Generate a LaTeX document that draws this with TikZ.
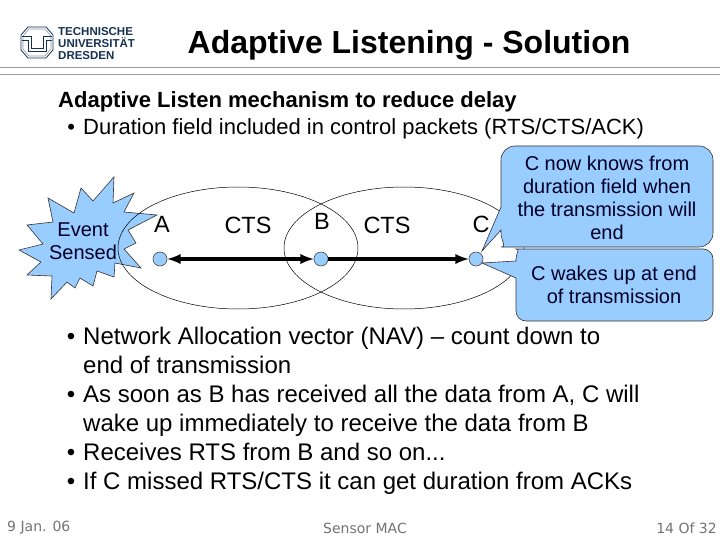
\documentclass[tikz,border=0pt]{standalone}
\usepackage{fontspec}
\setmainfont{Liberation Sans}
\newfontfamily\footfont{DejaVu Sans}
\usetikzlibrary{positioning,arrows,shapes.geometric}
\definecolor{bubblefill}{RGB}{153,204,255}
\definecolor{tunavy}{RGB}{22,50,82}
\newcommand{\bul}{\llap{\textbullet\hspace{8pt}}}
\begin{document}
\begin{tikzpicture}[
          x=1pt,y=-1pt,
          rule/.style={draw=black!40,line width=1pt},
          cover/.style={draw,ellipse,line width=.5pt,minimum width=240pt,minimum height=122pt,inner sep=0pt},
          station/.style={draw=black!70,circle,fill=bubblefill,minimum size=14pt,inner sep=0pt,line width=.6pt},
          bubble/.style={draw=black!80,fill=bubblefill,line width=.6pt},
          bubbletext/.style={font=\fontsize{20}{23}\selectfont,align=center,inner sep=0pt,text=black!85!blue},
          lbl/.style={font=\fontsize{23.5}{26}\selectfont,inner sep=0pt},
          body/.style={font=\fontsize{24}{29}\selectfont,align=left,anchor=north west,inner sep=0pt},
          foot/.style={font=\fontsize{14}{16}\footfont,text=black!55,inner sep=0pt},
          logotext/.style={font=\fontsize{11.5}{12}\selectfont\bfseries,text=tunavy,align=left,inner sep=0pt},
          radio/.style={line width=3.5pt}
            ]
            \useasboundingbox (0,0) rectangle (720,540);
            \fill[white] (0,0) rectangle (720,540);
            \draw[tunavy,line width=.8pt] (28,27) -- (46,27) -- (53,35) -- (53,50) -- (46,58) -- (28,58) -- (21,50) -- (21,35) -- cycle;
            \draw[tunavy!50,line width=.6pt] (29,29) -- (45,29) -- (51,36) -- (51,49) -- (45,56) -- (29,56) -- (23,49) -- (23,36) -- cycle;
            \draw[tunavy,line width=1pt] (22,37) -- (31,37) -- (31,49) -- (43,49) -- (43,37) -- (52,37);
            \draw[tunavy,line width=1pt] (22,41) -- (28,41) -- (28,52) -- (46,52) -- (46,41) -- (52,41);
            \node[logotext,anchor=north west] (logo) at (58,27) {TECHNISCHE\\UNIVERSITÄT\\DRESDEN};
            \node[inner sep=0pt,font=\fontsize{32}{36}\selectfont\bfseries] (title) at (409,45) {Adaptive Listening - Solution};
            \coordinate (rl1) at (0,67.5);
            \coordinate (rr1) at (720,67.5);
            \coordinate (rl2) at (0,75);
            \coordinate (rr2) at (720,75);
            \path (rl1) edge[rule] (rr1)
            (rl2) edge[rule] (rr2);
            \node[body,font=\fontsize{22}{27}\selectfont] (head) at (58,91) {\textbf{Adaptive Listen mechanism to reduce delay}\\\hspace{25pt}\bul Duration field included in control packets (RTS/CTS/ACK)};
            \draw[bubble,line join=miter] (114,177) -- (113,203) -- (134,193) -- (124,212) -- (157,215) -- (128,230) -- (136,243) -- (124,249) -- (141,268) -- (115,263) -- (114,277) -- (97,271) -- (93,286) -- (80,278) -- (75,288) -- (67,282) -- (51,299) -- (52,276) -- (27,275) -- (41,262) -- (19,250) -- (43,244) -- (27,225) -- (53,222) -- (48,198) -- (74,213) -- (81,188) -- (93,201) -- cycle;
            \node[bubbletext] (event) at (83,241) {Event\\Sensed};
            \node[cover] (ra) at (238,248) {};
            \node[cover] (rb) at (404,248) {};
            \node[station] (a) at (160,259) {};
            \node[station] (b) at (321,259) {};
            \node[station] (c) at (476,259) {};
            \node[lbl] (la) at (162,224) {A};
            \node[lbl] (cts1) at (248,225) {CTS};
            \node[lbl] (lb) at (322,221) {B};
            \node[lbl] (cts2) at (387,225) {CTS};
            \node[lbl] (lc) at (481,224) {C};
            \path (a) edge[radio,latex-latex] (b)
            (b) edge[radio,-latex] (c);
            \draw[bubble] (501,207) [rounded corners=14pt] -- (501,146) -- (713,146) -- (713,247) -- (515,247) [sharp corners] .. controls (507.3,247) and (501,240.7) .. (501,233) -- (501,230) -- (482,251) -- cycle;
            \node[bubbletext] (now) at (607,198) {C now knows from\\duration field when\\the transmission will\\end};
            \draw[bubble] (516,278) [rounded corners=10pt] -- (516,321) -- (713,321) -- (713,249) -- (526,249) [sharp corners] .. controls (520.5,249) and (516,253.5) .. (516,259) -- (516,261) -- (482,263) -- cycle;
            \node[bubbletext] (wakes) at (614,285) {C wakes up at end\\of transmission};
            \node[body] (nav) at (83,327) {\bul Network Allocation vector (NAV) – count down to\\end of transmission\\\bul As soon as B has received all the data from A, C will\\wake up immediately to receive the data from B\\\bul Receives RTS from B and so on...\\\bul If C missed RTS/CTS it can get duration from ACKs};
            \node[foot,anchor=west] (date) at (7,528) {9 Jan. 06};
            \node[foot] (mac) at (365,528) {Sensor MAC};
            \node[foot,anchor=east] (page) at (717,528) {14 Of 32};
            \end{tikzpicture}
\end{document}
